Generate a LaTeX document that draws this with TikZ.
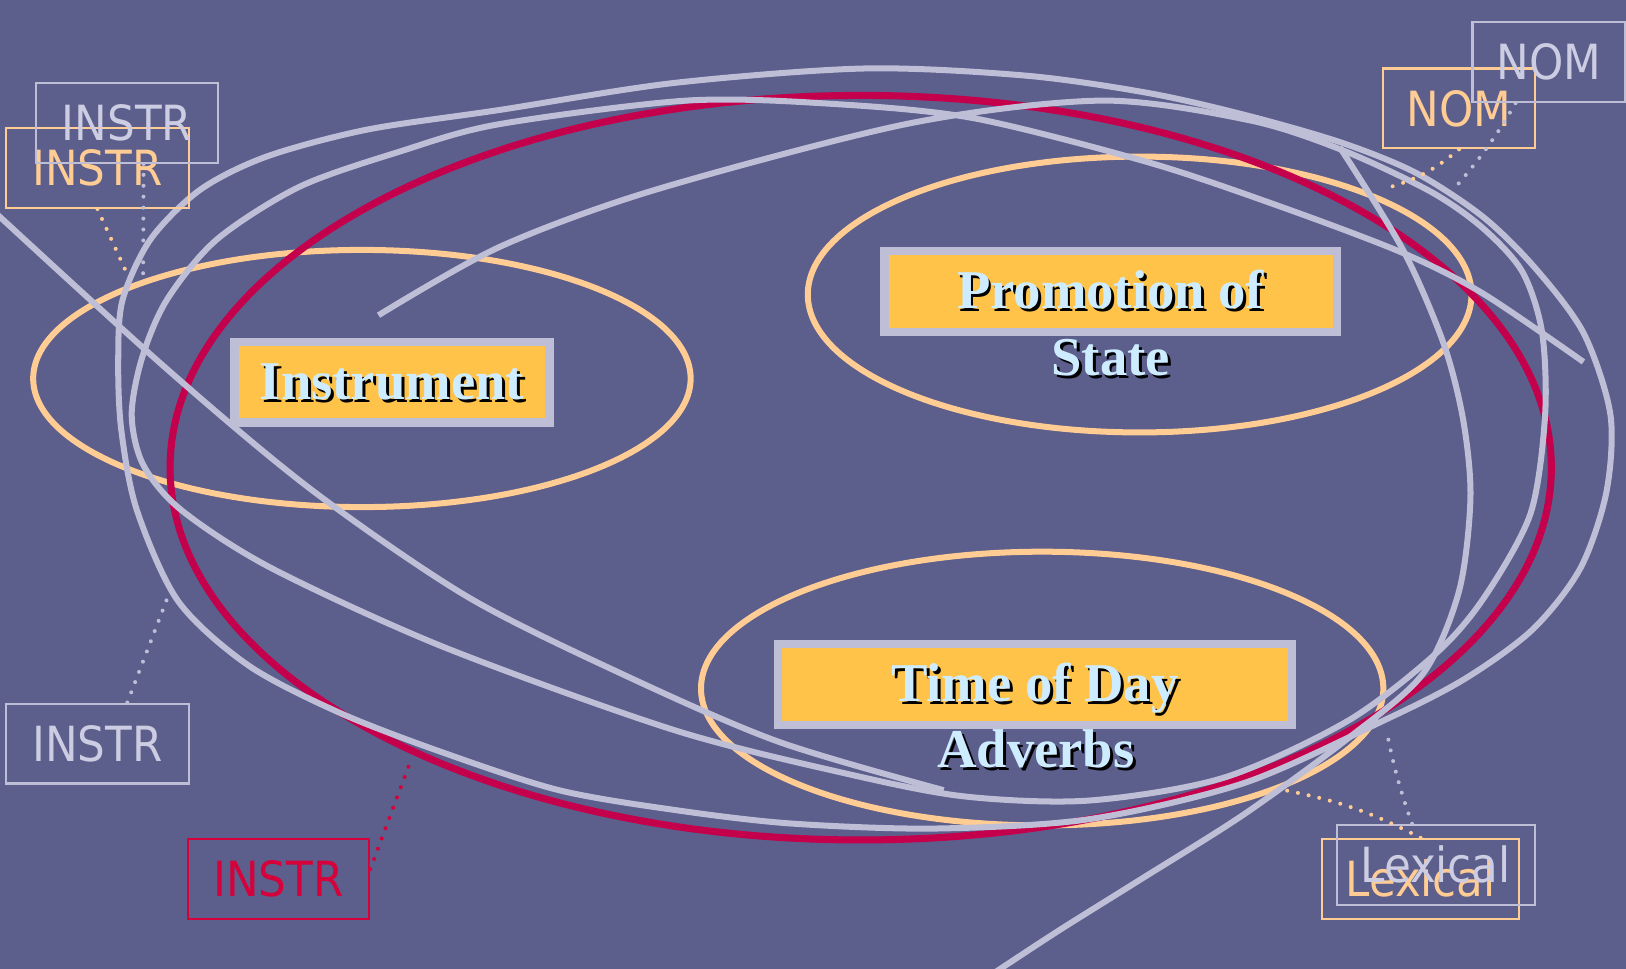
\documentclass[tikz,border=0pt]{standalone}
\usepackage{fontspec}
\setmainfont{Liberation Serif}
\newfontfamily\tagfont{DejaVu Sans Condensed}
\usetikzlibrary{positioning}

\definecolor{slide}{RGB}{92,94,140}
\definecolor{lav}{RGB}{190,190,214}
\definecolor{lavtext}{RGB}{204,204,226}
\definecolor{peach}{RGB}{255,204,148}
\definecolor{crimson}{RGB}{196,0,76}
\definecolor{crimsontext}{RGB}{214,0,58}
\definecolor{gold}{RGB}{255,195,74}
\definecolor{ice}{RGB}{206,236,255}

\newcommand{\shadowed}[1]{\makebox[0pt][l]{\hspace{0.8pt}\raisebox{-0.8pt}{\color{black}#1}}#1}

\begin{document}
\begin{tikzpicture}[x=0.1mm, y=-0.1mm,
  wire/.style={draw=lav, line width=0.58mm},
  ring/.style={draw=peach, line width=0.58mm},
  topic/.style={fill=gold, draw=lav, line width=0.8mm, inner sep=0pt, minimum height=7.8mm,
    text=ice, text height=0.95em, text depth=0pt, font=\bfseries\fontsize{15pt}{18pt}\selectfont},
  caption/.style={inner sep=0pt, text=ice, anchor=base,
    font=\bfseries\fontsize{15pt}{18pt}\selectfont},
  tag/.style={draw, line width=0.6pt, inner sep=0pt, minimum height=7.7mm,
    font=\tagfont\fontsize{13.3pt}{16pt}\selectfont},
  dotline/.style={line width=1.1pt, line cap=round, dash pattern=on 0pt off 3pt}]

\fill[slide] (0,0) rectangle (1568,934);
\clip (0,0) rectangle (1568,934);

% rings round the three groups
\draw[ring] (349,365) circle[x radius=317, y radius=124];
\draw[ring] (1099,284) circle[x radius=320, y radius=133];
\draw[ring] (1005,664) circle[x radius=329, y radius=132];
\draw[crimson, line width=0.68mm] (830,451) circle[x radius=666, y radius=359];

% loose strokes
\draw[wire] plot[smooth cycle] coordinates {(835,66) (990,73) (1109,90) (1205,112) (1295,138)
  (1366,167) (1430,209) (1480,258) (1527,321) (1553,400) (1549,475) (1524,548) (1478,607)
  (1412,655) (1334,695) (1200,755) (1050,790) (900,799) (761,794) (650,781) (539,762) (428,726)
  (329,688) (240,642) (172,580) (132,492) (117,415) (114,350) (118,290) (145,231) (193,183)
  (257,151) (354,125) (482,106) (650,80)};
\draw[wire] plot[smooth] coordinates {(365,304) (482,238) (632,183) (877,119) (1063,97) (1205,116)
  (1295,145) (1380,185) (1430,220) (1468,262) (1487,320) (1490,400) (1476,495) (1432,575)
  (1386,629) (1300,695) (1180,750) (1050,772) (930,768) (816,746) (650,704) (428,624) (262,548)
  (175,492) (138,448) (127,400) (137,345) (161,289) (209,231) (289,180) (386,146) (480,120)
  (662,97) (800,100) (939,114) (1109,157) (1237,200) (1353,244) (1430,283) (1527,349)};
\draw[wire] plot[smooth] coordinates {(-10,200) (160,355) (300,472) (450,575) (600,650) (750,715) (910,762)};
\draw[wire] plot[smooth] coordinates {(1292,142) (1353,241) (1392,331) (1411,405) (1418,480)
  (1407,570) (1372,650) (1300,712) (1200,785) (1100,848) (1020,898) (950,944)};

% group boxes
\node[topic, minimum width=30.4mm] (instr) at (378,368.5) {\shadowed{Instrument}};
\node[topic, minimum width=43.6mm] (promo) at (1071,281) {\shadowed{Promotion of}};
\node[caption] (state) at (1071,362) {\shadowed{State}};
\node[topic, minimum width=49.6mm] (timebox) at (998,660) {\shadowed{Time of Day}};
\node[caption] (adverbs) at (999,740) {\shadowed{Adverbs}};

% case tags
\node[tag, draw=peach, text=peach, minimum width=17.6mm] (instrO) at (94,162) {INSTR};
\node[tag, draw=lav, text=lavtext, minimum width=17.5mm] (instrL) at (122.5,118.5) {INSTR};
\node[tag, draw=lav, text=lavtext, minimum width=17.6mm] (instrB) at (94,717) {INSTR};
\node[tag, draw=crimsontext, text=crimsontext, minimum width=17.5mm] (instrR) at (268.5,847.5) {INSTR};
\node[tag, draw=peach, text=peach, minimum width=14.6mm] (nomO) at (1407,104.5) {NOM};
\node[tag, draw=lav, text=lavtext, minimum width=14.7mm] (nomL) at (1493.5,60) {NOM};
\node[tag, draw=peach, text=peach, minimum width=19mm] (lexO) at (1370,847.5) {Lexical};
\node[tag, draw=lav, text=lavtext, minimum width=19.1mm] (lexL) at (1384.5,834) {Lexical};

% where the dotted leaders touch the strokes
\coordinate (instrOend) at (123,265);
\coordinate (instrLend) at (138,270);
\coordinate (instrBend) at (164,570);
\coordinate (instrRend) at (397,731);
\coordinate (nomOend) at (1335,182);
\coordinate (nomLend) at (1404,180);
\coordinate (lexOend) at (1239,762);
\coordinate (lexLend) at (1337,704);

\draw[dotline, peach] (instrO.south) -- (instrOend);
\draw[dotline, lav] (instrL.-68) -- (instrLend);
\draw[dotline, lav] (instrB.54) -- (instrBend);
\draw[dotline, crimsontext] (instrR.6) -- (instrRend);
\draw[dotline, peach] (nomO.south) to[bend left=12] (nomOend);
\draw[dotline, lav] (nomL.-129) to[bend left=5] (nomLend);
\draw[dotline, peach] (lexO.north) to[bend right=8] (lexOend);
\draw[dotline, lav] (lexL.120) to[bend left=4] (lexLend);
\end{tikzpicture}
\end{document}
